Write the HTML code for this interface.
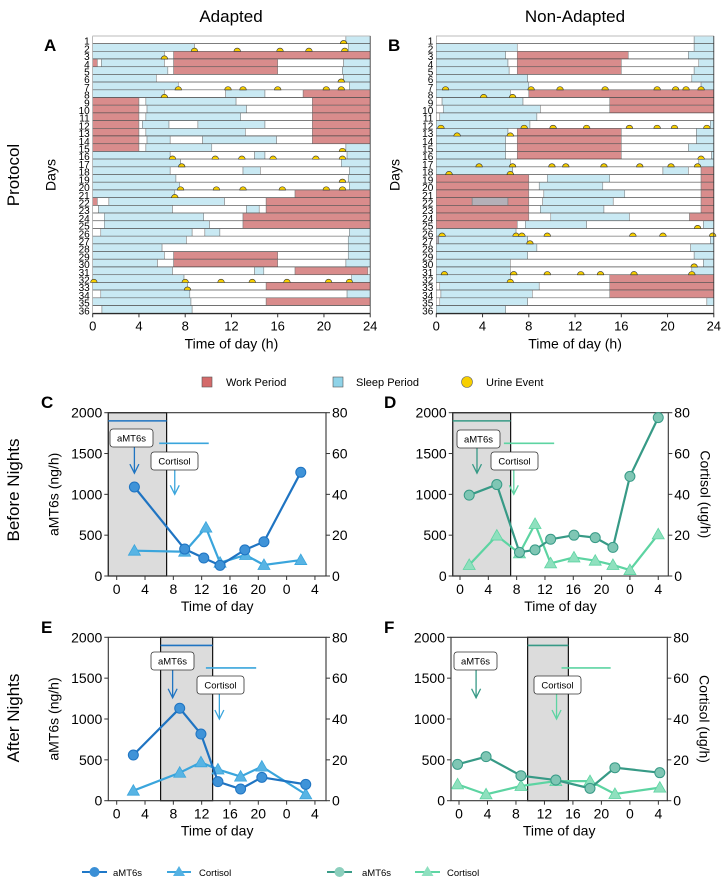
<!DOCTYPE html>
<html><head><meta charset="utf-8"><style>
body{margin:0;background:#fff;}
svg{display:block;font-family:"Liberation Sans",Arial,sans-serif;}
</style></head><body>
<svg id="fig" width="724" height="880" viewBox="0 0 724 880">
<text x="231" y="22" font-size="17" text-anchor="middle">Adapted</text>
<text x="575" y="22" font-size="17" text-anchor="middle">Non-Adapted</text>
<text transform="translate(19,175) rotate(-90)" font-size="17" text-anchor="middle">Protocol</text>
<text transform="translate(19,490) rotate(-90)" font-size="17" text-anchor="middle">Before Nights</text>
<text transform="translate(19,718) rotate(-90)" font-size="17" text-anchor="middle">After Nights</text>
<text x="44" y="51" font-size="17" font-weight="bold">A</text>
<text x="388" y="51" font-size="17" font-weight="bold">B</text>
<text x="41" y="408" font-size="17" font-weight="bold">C</text>
<text x="384" y="408" font-size="17" font-weight="bold">D</text>
<text x="41" y="633" font-size="17" font-weight="bold">E</text>
<text x="384" y="633" font-size="17" font-weight="bold">F</text>
<g>
<rect x="202" y="377" width="10" height="10" fill="#d46a6a" stroke="#555" stroke-width="0.6"/>
<text x="226" y="386" font-size="11">Work Period</text>
<rect x="333" y="377" width="10" height="10" fill="#8fd3e8" stroke="#555" stroke-width="0.6"/>
<text x="356" y="386" font-size="11">Sleep Period</text>
<circle cx="467" cy="382" r="5.5" fill="#f7cf00" stroke="#666" stroke-width="0.6"/>
<text x="486" y="386" font-size="11">Urine Event</text>
</g>
<g>
<line x1="82" y1="872" x2="107" y2="872" stroke="#1f78c8" stroke-width="2"/><circle cx="94.5" cy="872" r="5" fill="#3a8fd6"/>
<text x="113" y="876" font-size="9.5">aMT6s</text>
<line x1="167" y1="872" x2="191" y2="872" stroke="#3da5dd" stroke-width="2"/><polygon points="179,866 185,876 173,876" fill="#55b2e3"/>
<text x="199" y="876" font-size="9.5">Cortisol</text>
<line x1="327" y1="872" x2="352" y2="872" stroke="#3a9c88" stroke-width="2"/><circle cx="339.5" cy="872" r="5" fill="#8ccfbd"/>
<text x="362" y="876" font-size="9.5">aMT6s</text>
<line x1="415" y1="872" x2="440" y2="872" stroke="#5ed6a4" stroke-width="2"/><polygon points="427.5,866 433.5,876 421.5,876" fill="#8ee0bf"/>
<text x="447" y="876" font-size="9.5">Cortisol</text>
</g>
</svg>
<script>
const NS="http://www.w3.org/2000/svg";
const svg=document.getElementById('fig');
function el(tag,attrs,parent){const e=document.createElementNS(NS,tag);for(const k in attrs)e.setAttribute(k,attrs[k]);(parent||svg).appendChild(e);return e;}

// ---- Protocol data: segments [start,end,type] w=white s=sleep r=work g=gray
const adaptedRows=[
[[0,21.9,'w'],[21.9,24,'s']],
[[0,8.8,'s'],[8.8,22.1,'w'],[22.1,24,'s']],
[[0,6.2,'s'],[6.2,7,'w'],[7,24,'r']],
[[0,0.4,'r'],[0.4,0.75,'w'],[0.75,6.2,'s'],[6.2,7,'w'],[7,16,'r'],[16,21.7,'w'],[21.7,24,'s']],
[[0,6.5,'s'],[6.5,7,'w'],[7,16,'r'],[16,21.6,'w'],[21.6,24,'s']],
[[0,5.5,'s'],[5.5,21.7,'w'],[21.7,24,'s']],
[[0,7.4,'s'],[7.4,22.2,'w'],[22.2,24,'s']],
[[0,6.2,'s'],[6.2,11.5,'w'],[11.5,14.9,'s'],[14.9,18.2,'w'],[18.2,24,'r']],
[[0,4,'r'],[4,4.6,'w'],[4.6,12.4,'s'],[12.4,19,'w'],[19,24,'r']],
[[0,4,'r'],[4,4.7,'w'],[4.7,13.3,'s'],[13.3,19,'w'],[19,24,'r']],
[[0,4,'r'],[4,4.6,'w'],[4.6,12.8,'s'],[12.8,19,'w'],[19,24,'r']],
[[0,4,'r'],[4,4.3,'w'],[4.3,6.6,'s'],[6.6,9.1,'w'],[9.1,14.9,'s'],[14.9,19,'w'],[19,24,'r']],
[[0,4,'r'],[4,4.6,'w'],[4.6,13.2,'s'],[13.2,19,'w'],[19,24,'r']],
[[0,4,'r'],[4,4.7,'w'],[4.7,6.7,'s'],[6.7,9.5,'w'],[9.5,15.9,'s'],[15.9,19,'w'],[19,24,'r']],
[[0,4,'r'],[4,4.6,'w'],[4.6,10.3,'s'],[10.3,21.9,'w'],[21.9,24,'s']],
[[0,6.7,'s'],[6.7,14,'w'],[14,14.9,'s'],[14.9,22,'w'],[22,24,'s']],
[[0,7.6,'s'],[7.6,21.5,'w'],[21.5,24,'s']],
[[0,6.7,'s'],[6.7,13,'w'],[13,14.5,'s'],[14.5,22.2,'w'],[22.2,24,'s']],
[[0,7.2,'s'],[7.2,22.1,'w'],[22.1,24,'s']],
[[0,7.5,'s'],[7.5,22.2,'w'],[22.2,24,'s']],
[[0,7.1,'s'],[7.1,17.5,'w'],[17.5,24,'r']],
[[0,0.4,'r'],[0.4,1.4,'w'],[1.4,11.4,'s'],[11.4,15,'w'],[15,24,'r']],
[[0,0.5,'w'],[0.5,6.9,'s'],[6.9,13.3,'w'],[13.3,14.4,'s'],[14.4,15,'w'],[15,24,'r']],
[[0,1,'w'],[1,9.6,'s'],[9.6,13,'w'],[13,24,'r']],
[[0,1,'w'],[1,10.1,'s'],[10.1,13,'w'],[13,24,'r']],
[[0,0.7,'w'],[0.7,8.6,'s'],[8.6,9.7,'w'],[9.7,11,'s'],[11,22.2,'w'],[22.2,24,'s']],
[[0,8.1,'s'],[8.1,22.1,'w'],[22.1,24,'s']],
[[0,6,'s'],[6,22.1,'w'],[22.1,24,'s']],
[[0,6.2,'s'],[6.2,7,'w'],[7,16,'r'],[16,22.1,'w'],[22.1,24,'s']],
[[0,5.6,'s'],[5.6,7,'w'],[7,16,'r'],[16,21.9,'w'],[21.9,24,'s']],
[[0,6.9,'s'],[6.9,14,'w'],[14,14.8,'s'],[14.8,17.5,'w'],[17.5,23.8,'r'],[23.8,24,'w']],
[[0,7.9,'s'],[7.9,22.4,'w'],[22.4,24,'s']],
[[0,8.2,'s'],[8.2,15,'w'],[15,24,'r']],
[[0,0.7,'w'],[0.7,8.4,'s'],[8.4,22,'w'],[22,24,'s']],
[[0,8.5,'s'],[8.5,15,'w'],[15,24,'r']],
[[0,0.8,'w'],[0.8,8.6,'s'],[8.6,24,'w']]
];
const adaptedUrine=[[1,21.7],[2,8.8],[2,12.5],[2,16.2],[2,18.7],[2,21.8],[3,6.2],[6,21.5],[7,7.4],[7,11.7],[7,13],[7,16],[7,20.2],[7,21.5],[8,6.2],[15,21.6],[16,6.9],[16,10.6],[16,12.9],[16,15.6],[16,19.3],[16,21.6],[17,7.7],[19,21.6],[20,7.6],[20,10.7],[20,13],[20,16.4],[20,20.2],[20,21.6],[21,7.1],[32,0.1],[32,8],[32,11.1],[32,13.8],[32,16.8],[32,20.4],[32,22.2],[33,8.2]];
const nonAdaptedRows=[
[[0,22.3,'w'],[22.3,24,'s']],
[[0,7,'s'],[7,22.3,'w'],[22.3,24,'s']],
[[0,6,'s'],[6,7,'w'],[7,16.6,'r'],[16.6,21.8,'w'],[21.8,24,'s']],
[[0,6.2,'s'],[6.2,7,'w'],[7,16,'r'],[16,22.7,'w'],[22.7,24,'s']],
[[0,6.3,'s'],[6.3,7,'w'],[7,16,'r'],[16,22.3,'w'],[22.3,24,'s']],
[[0,7.9,'s'],[7.9,22.1,'w'],[22.1,24,'s']],
[[0,8,'s'],[8,22.9,'w'],[22.9,24,'s']],
[[0,6.4,'s'],[6.4,8,'w'],[8,24,'r']],
[[0,0.5,'w'],[0.5,7.5,'s'],[7.5,15,'w'],[15,24,'r']],
[[0,0.6,'w'],[0.6,9,'s'],[9,15,'w'],[15,24,'r']],
[[0,0.3,'w'],[0.3,8.7,'s'],[8.7,24,'w']],
[[0,8.1,'s'],[8.1,23.7,'w'],[23.7,24,'s']],
[[0,6.2,'s'],[6.2,7,'w'],[7,16,'r'],[16,22.5,'w'],[22.5,24,'s']],
[[0,6,'s'],[6,7,'w'],[7,16,'r'],[16,22.5,'w'],[22.5,24,'s']],
[[0,6,'s'],[6,7,'w'],[7,16,'r'],[16,21.8,'w'],[21.8,24,'s']],
[[0,6,'s'],[6,7,'w'],[7,16,'r'],[16,23.8,'w'],[23.8,24,'s']],
[[0,6.4,'s'],[6.4,22.7,'w'],[22.7,24,'s']],
[[0,6.6,'s'],[6.6,19.6,'w'],[19.6,21.8,'s'],[21.8,22.9,'w'],[22.9,24,'r']],
[[0,8,'r'],[8,9.6,'w'],[9.6,15,'s'],[15,22.9,'w'],[22.9,24,'r']],
[[0,8,'r'],[8,8.9,'w'],[8.9,14.4,'s'],[14.4,22.9,'w'],[22.9,24,'r']],
[[0,8,'r'],[8,9.3,'w'],[9.3,16.3,'s'],[16.3,22.9,'w'],[22.9,24,'r']],
[[0,3.1,'r'],[3.1,6.2,'g'],[6.2,8,'r'],[8,9.2,'w'],[9.2,15.3,'s'],[15.3,22.9,'w'],[22.9,24,'r']],
[[0,8,'r'],[8,9,'w'],[9,14.5,'s'],[14.5,22.9,'w'],[22.9,24,'r']],
[[0,8,'r'],[8,9.9,'w'],[9.9,16.7,'s'],[16.7,21.9,'w'],[21.9,24,'r']],
[[0,7,'r'],[7,7.7,'w'],[7.7,13,'s'],[13,23.1,'w'],[23.1,24,'s']],
[[0,6.9,'s'],[6.9,24,'w']],
[[0,0.2,'g'],[0.2,7.9,'s'],[7.9,23.7,'w'],[23.7,24,'s']],
[[0,8.7,'s'],[8.7,22,'w'],[22,24,'s']],
[[0,7.9,'s'],[7.9,22.3,'w'],[22.3,24,'s']],
[[0,6.4,'s'],[6.4,23.1,'w'],[23.1,24,'s']],
[[0,6.4,'s'],[6.4,22.1,'w'],[22.1,24,'s']],
[[0,6.4,'s'],[6.4,15,'w'],[15,24,'r']],
[[0,0.3,'w'],[0.3,8.9,'s'],[8.9,15,'w'],[15,24,'r']],
[[0,0.4,'w'],[0.4,8.3,'s'],[8.3,15,'w'],[15,24,'r']],
[[0,0.3,'w'],[0.3,7.9,'s'],[7.9,23.4,'w'],[23.4,24,'s']],
[[0,6,'s'],[6,24,'w']]
];
const nonAdaptedUrine=[[7,0.8],[7,8.2],[7,10.7],[7,14.6],[7,19.1],[7,20.7],[7,21.6],[7,22.9],[8,4.1],[8,6.6],[12,0.4],[12,7.6],[12,10.1],[12,13],[12,16.7],[12,19.1],[12,20.6],[12,23.4],[13,1.8],[13,6.4],[16,22.9],[17,3.7],[17,6.6],[17,10],[17,11.2],[17,14.5],[17,17.6],[17,20.3],[17,22.6],[18,1.1],[18,6.4],[25,22.6],[26,0.5],[26,6.9],[26,7.4],[26,9.6],[26,17],[26,19.6],[26,23.9],[27,8.1],[30,22.3],[31,0.7],[31,6.7],[31,9.6],[31,12.5],[31,14.2],[31,17.1],[31,22.1],[32,6.4]];
const hourTicks=[0,4,8,12,16,20,24];

const segColor={w:'#ffffff',s:'#c9e9f3',r:'#d98c8c',g:'#b4b0b8'};
function gantt(rows,urine,left,name,showYLabel){
  const top=36,bottom=313.3,width=277.5;
  const g=el('g',{});  
  const xs=h=>left+h/24*width;
  const rh=(bottom-top)/rows.length;
  rows.forEach((row,i)=>{
    const y=top+i*rh;
    const rg=el('g',{},g);
    
    
    row.forEach(s=>{
      const r=el('rect',{x:xs(s[0]),y:y,width:xs(s[1])-xs(s[0]),height:rh,fill:segColor[s[2]],stroke:'#777','stroke-width':0.5},rg);
      
      
    });
    el('line',{x1:left,x2:left+width,y1:y+rh,y2:y+rh,stroke:'#111','stroke-width':0.9},rg);
    const t=el('text',{x:left-3,y:y+rh+1,'font-size':10,'text-anchor':'end'},g);
    t.textContent=i+1;
    
    
  });
  el('line',{x1:left,x2:left+width,y1:top,y2:top,stroke:'#bbb','stroke-width':1},g);
  urine.forEach(u=>{
    const cx=xs(u[1]),cy=top+u[0]*rh;
    const p=el('path',{d:`M${cx-3.3},${cy} A3.3,3.3 0 0 1 ${cx+3.3},${cy} Z`,fill:'#f7cf00',stroke:'#333','stroke-width':0.6},g);
    
    
  });
  el('line',{x1:left,x2:left+width,y1:bottom+0.5,y2:bottom+0.5,stroke:'#333','stroke-width':1},g);
  el('line',{x1:left+width,x2:left+width,y1:top,y2:bottom,stroke:'#333','stroke-width':0.8},g);
  hourTicks.forEach(h=>{
    el('line',{x1:xs(h),x2:xs(h),y1:bottom,y2:bottom+4,stroke:'#333','stroke-width':1},g);
    const t=el('text',{x:xs(h),y:bottom+17,'font-size':13,'text-anchor':'middle'},g);
    t.textContent=h;
    
    
  });
  const xl=el('text',{x:left+width/2,y:bottom+35,'font-size':14,'text-anchor':'middle'},g);
  xl.textContent='Time of day (h)';
  
  
  const yl=el('text',{transform:`translate(${left-37},175) rotate(-90)`,'font-size':14,'text-anchor':'middle'},g);
  yl.textContent='Days';
  
  
}
gantt(adaptedRows,adaptedUrine,92.7,'panel-a-adapted-protocol');
gantt(nonAdaptedRows,nonAdaptedUrine,436.3,'panel-b-non-adapted-protocol');

// ---- Hormone panels
const tickHours=[0,4,8,12,16,20,24,28];
const tickLabels=['0','4','8','12','16','20','0','4'];
const leftTicks=[0,500,1000,1500,2000];
const rightTicks=[0,20,40,60,80];
const cHours=[2.5,9.6,12.3,14.6,18.1,20.8,26.0];
const cAmt=[1090,330,220,130,320,420,1270];
const cCortHours=[2.5,9.6,12.6,14.6,18.2,20.8,26.0];
const cCort=[12.4,11.9,23.7,6.5,10.3,5.4,7.8];
const dHours=[1.3,5.2,8.4,10.6,12.8,16.1,19.1,21.6,24,28];
const dAmt=[990,1120,290,320,450,500,470,350,1220,1940];
const dCort=[5.4,19.8,11.1,25.5,6.2,9.1,7.5,5.4,2.9,20.4];
const eHours=[2.35,8.9,11.9,14.3,17.5,20.5,26.7];
const eAmt=[559,1131,816,233,143,286,200];
const eCort=[4.9,13.7,18.8,15.3,11.8,16.7,3.1];
const fHours=[-0.2,3.8,8.7,13.6,18.4,21.9,28.2];
const fAmt=[445,539,306,253,151,404,343];
const fCort=[8.0,3.1,7.2,9.6,9.6,3.3,6.4];

function panel(o){
  const g=el('g',{});  
  const X=h=>o.x0+h*o.ppH, YL=v=>o.bottom-v/2000*(o.bottom-o.top), YR=v=>o.bottom-v/80*(o.bottom-o.top);
  const sh=el('rect',{x:Math.max(o.left,X(o.shade[0])),y:o.top,width:X(o.shade[1])-Math.max(o.left,X(o.shade[0])),height:o.bottom-o.top,fill:'#dcdcdc',stroke:'#111','stroke-width':1.2},g);
  
  
  el('rect',{x:o.left,y:o.top,width:o.right-o.left,height:o.bottom-o.top,fill:'none',stroke:'#333','stroke-width':1.1},g);
  // acrophase lines/annotations
  el('line',{x1:Math.max(o.left,X(o.ab[0])),x2:X(o.ab[1]),y1:YL(1900),y2:YL(1900),stroke:o.c1,'stroke-width':1.6},g);
  el('line',{x1:X(o.cb[0]),x2:X(o.cb[1]),y1:YL(1625),y2:YL(1625),stroke:o.c2,'stroke-width':1.6},g);
  function ann(label,bx,by,bw,ax,ay0,ay1,col){
    const bg=el('g',{},g);
    
    
    el('line',{x1:ax,x2:ax,y1:ay0,y2:ay1,stroke:col,'stroke-width':1.3},bg);
    el('path',{d:`M${ax-4.5},${ay1-9} L${ax},${ay1} L${ax+4.5},${ay1-9}`,fill:'none',stroke:col,'stroke-width':1.3},bg);
    el('rect',{x:bx,y:by,width:bw,height:18,rx:3,fill:'#fff',stroke:'#333','stroke-width':0.8},bg);
    const t=el('text',{x:bx+bw/2,y:by+12.5,'font-size':9.5,'text-anchor':'middle'},bg);t.textContent=label;
  }
  ann('aMT6s',o.aBox[0],o.aBox[1],43,X(o.aArrow),o.aBox[1]+18,YL(1260),o.c1);
  ann('Cortisol',o.cBox[0],o.cBox[1],47,X(o.cArrow),o.cBox[1]+18,YL(1000),o.c2);
  // cortisol series
  const cg=el('g',{},g);  
  el('polyline',{points:o.ch.map((h,i)=>X(h)+','+YR(o.cv[i])).join(' '),fill:'none',stroke:o.c2,'stroke-width':2.2},cg);
  o.ch.forEach((h,i)=>{const x=X(h),y=YR(o.cv[i]);
    const p=el('polygon',{points:`${x},${y-6} ${x+6},${y+4.5} ${x-6},${y+4.5}`,fill:o.f2,stroke:o.c2,'stroke-width':0.8},cg);
    
    });
  const ag=el('g',{},g);  
  el('polyline',{points:o.ah.map((h,i)=>X(h)+','+YL(o.av[i])).join(' '),fill:'none',stroke:o.c1,'stroke-width':2.2},ag);
  o.ah.forEach((h,i)=>{
    const c=el('circle',{cx:X(h),cy:YL(o.av[i]),r:5,fill:o.f1,stroke:o.c1,'stroke-width':1},ag);
    
    });
  // axes
  leftTicks.forEach(v=>{el('line',{x1:o.left-4,x2:o.left,y1:YL(v),y2:YL(v),stroke:'#333'},g);
    const t=el('text',{x:o.left-6,y:YL(v)+5,'font-size':14,'text-anchor':'end'},g);t.textContent=v;
    
    });
  rightTicks.forEach(v=>{el('line',{x1:o.right,x2:o.right+4,y1:YR(v),y2:YR(v),stroke:'#333'},g);
    const t=el('text',{x:o.right+6,y:YR(v)+5,'font-size':14},g);t.textContent=v;
    
    });
  tickHours.forEach((h,i)=>{el('line',{x1:X(h),x2:X(h),y1:o.bottom,y2:o.bottom+4,stroke:'#333'},g);
    const t=el('text',{x:X(h),y:o.bottom+18,'font-size':14,'text-anchor':'middle'},g);t.textContent=tickLabels[i];
    
    });
  const xl=el('text',{x:(o.left+o.right)/2,y:o.bottom+35,'font-size':14,'text-anchor':'middle'},g);xl.textContent='Time of day';
  
  
  if(o.leftTitle){const t=el('text',{transform:`translate(${o.left-50},${(o.top+o.bottom)/2}) rotate(-90)`,'font-size':14,'text-anchor':'middle'},g);t.textContent='aMT6s (ng/h)';
    
    }
  if(o.rightTitle){const t=el('text',{transform:`translate(${o.right+32},${(o.top+o.bottom)/2}) rotate(90)`,'font-size':14,'text-anchor':'middle'},g);t.textContent='Cortisol (ug/h)';
    
    }
}
const blue={c1:'#1f74c2',f1:'#3f93d8',c2:'#3aa5dc',f2:'#58b4e4'};
const green={c1:'#379a86',f1:'#7fc6b4',c2:'#5dd4a2',f2:'#8fe0be'};
panel(Object.assign({name:'panel-c-adapted-before',left:108.3,right:326,top:412.7,bottom:576,x0:116.7,ppH:7.08,shade:[-2,7.05],ab:[-2,7.05],cb:[6,13],aBox:[110,429],aArrow:2.5,cBox:[151,452],cArrow:8.2,ah:cHours,av:cAmt,ch:cCortHours,cv:cCort,leftTitle:true},blue));
panel(Object.assign({name:'panel-d-non-adapted-before',left:452.7,right:668.3,top:412.7,bottom:576,x0:460,ppH:7.08,shade:[-2,7.15],ab:[-2,7.15],cb:[6.2,13.3],aBox:[457,430],aArrow:2.4,cBox:[491,452],cArrow:7.6,ah:dHours,av:dAmt,ch:dHours,cv:dCort,rightTitle:true},green));
panel(Object.assign({name:'panel-e-adapted-after',left:108.3,right:326,top:637.3,bottom:800.7,x0:116.7,ppH:7.08,shade:[6.2,13.55],ab:[6.2,13.55],cb:[12.6,19.7],aBox:[151,652],aArrow:7.9,cBox:[197,676],cArrow:14.5,ah:eHours,av:eAmt,ch:eHours,cv:eCort,leftTitle:true},blue));
panel(Object.assign({name:'panel-f-non-adapted-after',left:451,right:667.3,top:637.3,bottom:800.7,x0:459,ppH:7.12,shade:[9.64,15.36],ab:[9.64,15.36],cb:[14.4,21.3],aBox:[454,652],aArrow:2.4,cBox:[534,676],cArrow:13.7,ah:fHours,av:fAmt,ch:fHours,cv:fCort,rightTitle:true},green));
</script>
</body></html>
